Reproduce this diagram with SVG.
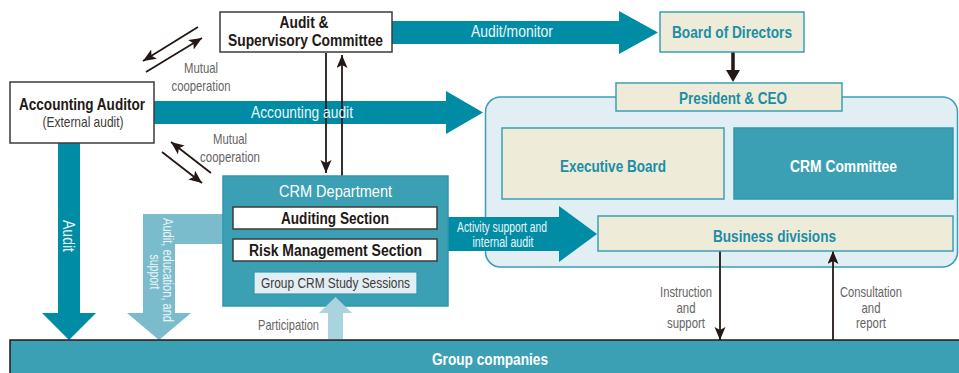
<svg xmlns="http://www.w3.org/2000/svg" width="959" height="373" viewBox="0 0 959 373">
<style>
text{font-family:"Liberation Sans Narrow","Liberation Sans",Arial,sans-serif;text-anchor:middle}
.b{font-weight:bold;font-size:17.2px}
.dk{fill:#231815}
.tl{fill:#1a8ea6}
.wh{fill:#ffffff}
.lab{font-size:17px;fill:#eaf6f8}
.sm{font-size:14.5px;fill:#666464}
.wbox{fill:#ffffff;stroke:#3e3a39;stroke-width:1.5}
.cream{fill:#efebd9;stroke:#3aa0b4;stroke-width:1.5}
.tealbox{fill:#3ca0b4;stroke:#2f97ac;stroke-width:1.5}
.arr{fill:#008ca5}
.line{stroke:#231815;stroke-width:1.8;fill:none;marker-end:url(#ah)}
</style>
<defs>
<marker id="ah" markerUnits="userSpaceOnUse" markerWidth="14" markerHeight="12" refX="13" refY="5.5" orient="auto">
<path d="M0,0 L13,5.5 L0,11 L3,5.5 z" fill="#231815"/>
</marker>
</defs>

<g id="container">
<rect x="485.5" y="97" width="472" height="170" rx="15" fill="#e1eef4" stroke="#3aa0b4" stroke-width="1.5"/>
</g>

<g id="connectors">
<polygon class="arr" points="58,143 80,143 80,313 96,313 69,340 42,313 58,313"/>
<polygon fill="#7bbccc" points="223,214 143,214 143,313 127,313 159,340 191,313 175,313 175,244 223,244"/>
<polygon class="arr" points="154,101 446,101 446,91 483,112.5 446,134 446,124 154,124"/>
<polygon class="arr" points="392,21 619,21 619,11 658,32.5 619,54 619,44 392,44"/>
<polygon class="arr" points="447,217 559,217 559,206 597,234 559,262 559,251 447,251"/>
<line class="line" x1="198" y1="27" x2="143" y2="61"/>
<line class="line" x1="146" y1="72" x2="202" y2="38"/>
<line class="line" x1="162" y1="152" x2="202" y2="183"/>
<line class="line" x1="211" y1="173" x2="171" y2="142"/>
<line class="line" x1="326" y1="53" x2="326" y2="173"/>
<line class="line" x1="342" y1="176" x2="342" y2="55"/>
<line class="line" x1="720" y1="251" x2="720" y2="340"/>
<line class="line" x1="833" y1="340" x2="833" y2="251"/>
<line x1="733" y1="52" x2="733" y2="72" stroke="#231815" stroke-width="3.5"/>
<polygon points="726,70 740,70 733,82" fill="#231815"/>
<text class="lab" x="302" y="118" textLength="102" lengthAdjust="spacingAndGlyphs">Accounting audit</text>
<text class="lab" x="512" y="37" textLength="82" lengthAdjust="spacingAndGlyphs">Audit/monitor</text>
<text class="lab" style="font-size:14px" x="502" y="232" textLength="90" lengthAdjust="spacingAndGlyphs">Activity support and</text>
<text class="lab" style="font-size:14px" x="503" y="247" textLength="61" lengthAdjust="spacingAndGlyphs">internal audit</text>
<text class="lab" transform="translate(63,236) rotate(90)" textLength="32" lengthAdjust="spacingAndGlyphs">Audit</text>
<text class="lab" style="font-size:14px" transform="translate(163,270) rotate(90)" textLength="104" lengthAdjust="spacingAndGlyphs">Audit, education, and</text>
<text class="lab" style="font-size:14px" transform="translate(149.5,272) rotate(90)" textLength="35" lengthAdjust="spacingAndGlyphs">support</text>
<text class="sm" x="201" y="73" textLength="34" lengthAdjust="spacingAndGlyphs">Mutual</text>
<text class="sm" x="201" y="91" textLength="59" lengthAdjust="spacingAndGlyphs">cooperation</text>
<text class="sm" x="230" y="144" textLength="34" lengthAdjust="spacingAndGlyphs">Mutual</text>
<text class="sm" x="230" y="162" textLength="60" lengthAdjust="spacingAndGlyphs">cooperation</text>
<text class="sm" x="686" y="297" textLength="52" lengthAdjust="spacingAndGlyphs">Instruction</text>
<text class="sm" x="686" y="313" textLength="19" lengthAdjust="spacingAndGlyphs">and</text>
<text class="sm" x="686" y="328" textLength="38" lengthAdjust="spacingAndGlyphs">support</text>
<text class="sm" x="871" y="297" textLength="62" lengthAdjust="spacingAndGlyphs">Consultation</text>
<text class="sm" x="871" y="313" textLength="19" lengthAdjust="spacingAndGlyphs">and</text>
<text class="sm" x="871" y="328" textLength="30" lengthAdjust="spacingAndGlyphs">report</text>
</g>

<g id="audit-committee">
<rect class="wbox" x="220" y="12" width="172" height="40"/>
<text class="b dk" style="font-size:16px" x="304" y="27.5" textLength="49" lengthAdjust="spacingAndGlyphs">Audit &amp;</text>
<text class="b dk" style="font-size:16px" x="305.5" y="46" textLength="155" lengthAdjust="spacingAndGlyphs">Supervisory Committee</text>
</g>

<g id="accounting-auditor">
<rect class="wbox" x="10" y="82" width="144" height="61"/>
<text class="b dk" x="82" y="110" textLength="126" lengthAdjust="spacingAndGlyphs">Accounting Auditor</text>
<text x="83" y="127" style="font-size:15px;fill:#3e3a39" textLength="81" lengthAdjust="spacingAndGlyphs">(External audit)</text>
</g>

<g id="board">
<rect class="cream" x="660" y="12" width="144" height="40"/>
<text class="b tl" x="732" y="38" textLength="120" lengthAdjust="spacingAndGlyphs">Board of Directors</text>
</g>

<g id="president">
<rect class="cream" x="616" y="83" width="226" height="28"/>
<text class="b tl" x="733" y="104" textLength="108" lengthAdjust="spacingAndGlyphs">President &amp; CEO</text>
</g>

<g id="executive-board">
<rect class="cream" x="502" y="128" width="222" height="71"/>
<text class="b tl" x="613" y="172" textLength="106" lengthAdjust="spacingAndGlyphs">Executive Board</text>
</g>

<g id="crm-committee">
<rect class="tealbox" x="734" y="128" width="219" height="71"/>
<text class="b wh" x="843.5" y="172" textLength="107" lengthAdjust="spacingAndGlyphs">CRM Committee</text>
</g>

<g id="business-divisions">
<rect class="cream" x="598" y="216" width="355" height="35"/>
<text class="b tl" x="774.5" y="242" textLength="123" lengthAdjust="spacingAndGlyphs">Business divisions</text>
</g>

<g id="crm-department">
<rect class="tealbox" x="223" y="176" width="225" height="130"/>
<text x="335.5" y="197" style="font-size:17px;fill:#ffffff" textLength="113" lengthAdjust="spacingAndGlyphs">CRM Department</text>
<rect class="wbox" x="233" y="207" width="204" height="22"/>
<text class="b dk" x="335" y="224" textLength="108" lengthAdjust="spacingAndGlyphs">Auditing Section</text>
<rect class="wbox" x="233" y="239" width="204" height="22"/>
<text class="b dk" x="335.5" y="256" textLength="173" lengthAdjust="spacingAndGlyphs">Risk Management Section</text>
<rect x="254" y="272" width="163" height="22" fill="#e1eef4" stroke="#2f97ac" stroke-width="1.2"/>
<text x="335.5" y="288" style="font-size:15px;fill:#3e3a39" textLength="149" lengthAdjust="spacingAndGlyphs">Group CRM Study Sessions</text>
</g>

<g id="group-companies">
<rect x="10" y="340" width="960" height="40" fill="#3ca0b4" stroke="#231815" stroke-width="1.5"/>
<text class="b wh" style="font-size:17px" x="490" y="365" textLength="116" lengthAdjust="spacingAndGlyphs">Group companies</text>
</g>

<g id="participation">
<polygon fill="#a9d3df" points="328,339 328,313 319,313 335.5,297 352,313 343,313 343,339"/>
<text x="288.5" y="330" style="font-size:14.5px;fill:#666464" textLength="61" lengthAdjust="spacingAndGlyphs">Participation</text>
</g>
</svg>
